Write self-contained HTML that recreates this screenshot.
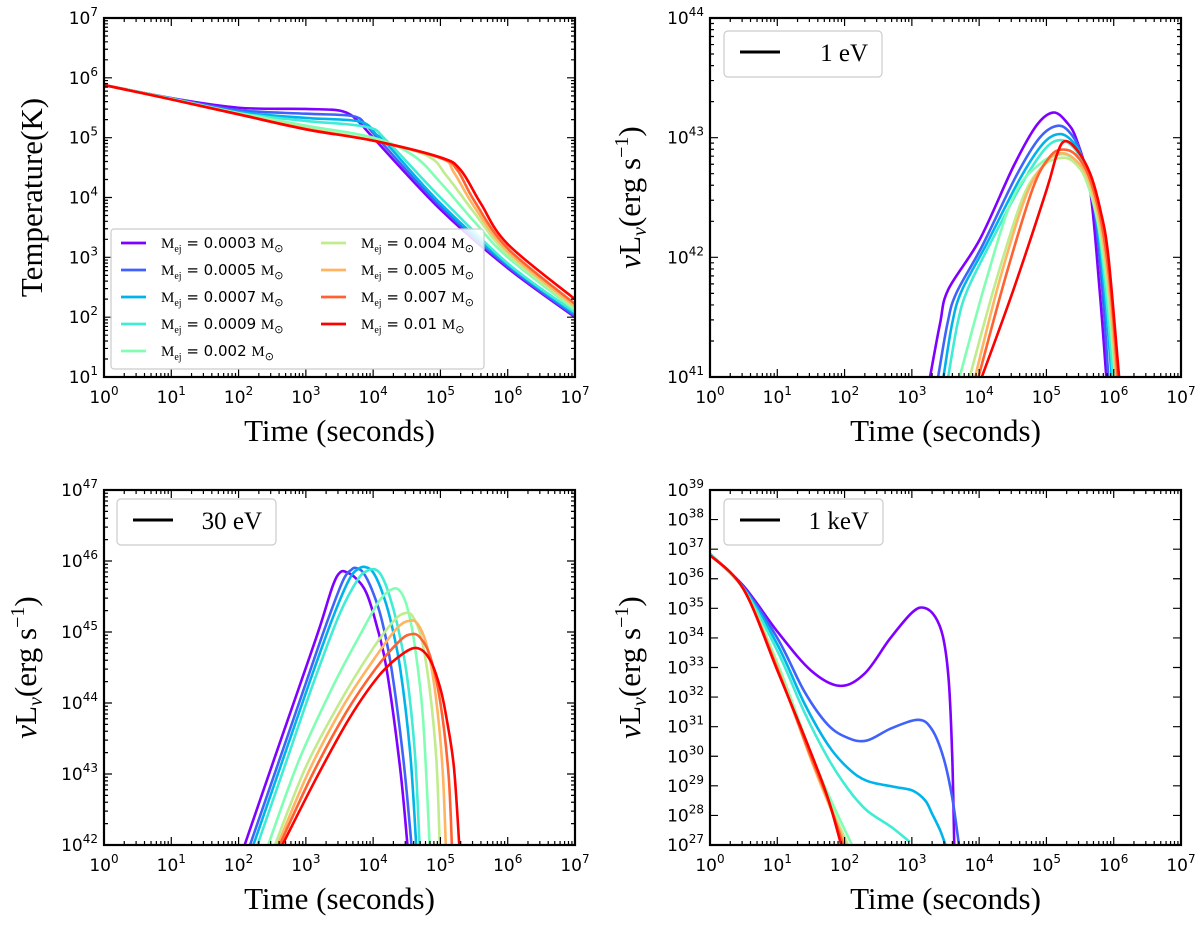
<!DOCTYPE html>
<html><head><meta charset="utf-8"><style>
body{margin:0;background:#fff;}
svg text{font-family:"DejaVu Sans","Liberation Sans",sans-serif;}
.serif{font-family:"Liberation Serif","DejaVu Serif",serif !important;}
</style></head><body>
<svg id="fig" width="1200" height="926" viewBox="0 0 1200 926" xmlns="http://www.w3.org/2000/svg"></svg>
<script>
const seriesLabels = ["0.0003","0.0005","0.0007","0.0009","0.002","0.004","0.005","0.007","0.01"];
const seriesColors = ["#8000ff","#4062fa","#00b4eb","#40ecd4","#80ffb4","#c0ec8e","#ffb462","#ff6232","#ff0000"];
// [log10 t, log10 value]
const tempCurves = [
 [[0,5.88],[1,5.66],[2,5.5],[3,5.48],[3.55,5.44],[3.8,5.25],[4,5.0],[5,3.8],[6,2.82],[7,2.0]],
 [[0,5.88],[1,5.66],[2,5.46],[3,5.4],[3.7,5.36],[3.9,5.2],[4.1,4.95],[5,3.85],[6,2.85],[7,2.02]],
 [[0,5.88],[1,5.65],[2,5.43],[3,5.33],[3.8,5.27],[4.05,5.05],[4.2,4.9],[5,3.9],[6,2.88],[7,2.05]],
 [[0,5.88],[1,5.65],[2,5.41],[3,5.28],[3.9,5.18],[4.2,4.95],[5,4.0],[6,2.9],[7,2.08]],
 [[0,5.88],[1,5.65],[2,5.41],[3,5.2],[4,5.0],[4.6,4.7],[5,4.25],[5.5,3.6],[6,3.0],[7,2.12]],
 [[0,5.88],[1,5.64],[2,5.4],[3,5.16],[4,4.96],[4.8,4.7],[5.1,4.35],[5.5,3.75],[6,3.05],[7,2.15]],
 [[0,5.88],[1,5.64],[2,5.39],[3,5.15],[4,4.95],[5,4.66],[5.2,4.42],[5.5,3.85],[6,3.1],[7,2.18]],
 [[0,5.88],[1,5.64],[2,5.39],[3,5.14],[4,4.95],[5,4.66],[5.25,4.46],[5.5,3.95],[6,3.15],[7,2.22]],
 [[0,5.88],[1,5.64],[2,5.39],[3,5.14],[4,4.95],[5,4.67],[5.3,4.46],[5.6,3.9],[6,3.22],[7,2.3]]
];
const eV1Curves = [
 [[3.27,41],[3.42,41.45],[3.54,41.73],[4.01,42.15],[4.51,42.76],[4.85,43.1],[5.1,43.21],[5.3,43.13],[5.45,42.98],[5.65,42.56],[5.79,41.73],[5.89,41]],
 [[3.39,41],[3.53,41.45],[3.66,41.7],[4.05,42.1],[4.55,42.68],[4.9,43.0],[5.18,43.1],[5.38,43.02],[5.52,42.85],[5.7,42.45],[5.83,41.73],[5.92,41]],
 [[3.47,41],[3.6,41.45],[3.74,41.72],[4.1,42.1],[4.6,42.65],[4.95,42.95],[5.2,43.03],[5.4,42.96],[5.55,42.8],[5.72,42.42],[5.86,41.73],[5.97,41]],
 [[3.54,41],[3.68,41.45],[3.82,41.72],[4.15,42.1],[4.62,42.6],[4.97,42.9],[5.2,42.98],[5.4,42.92],[5.56,42.76],[5.74,42.4],[5.88,41.73],[5.99,41]],
 [[3.71,41],[4.1,41.8],[4.51,42.51],[4.9,42.78],[5.2,42.86],[5.4,42.82],[5.58,42.66],[5.76,42.3],[5.9,41.75],[6.02,41]],
 [[3.86,41],[4.25,41.8],[4.65,42.5],[4.95,42.76],[5.2,42.83],[5.4,42.8],[5.6,42.64],[5.78,42.28],[5.92,41.75],[6.03,41]],
 [[3.94,41],[4.3,41.8],[4.7,42.52],[5.0,42.8],[5.22,42.87],[5.42,42.82],[5.62,42.66],[5.8,42.28],[5.93,41.75],[6.04,41]],
 [[3.99,41],[4.4,41.85],[4.8,42.58],[5.05,42.84],[5.23,42.9],[5.43,42.86],[5.63,42.68],[5.82,42.28],[5.95,41.75],[6.06,41]],
 [[4.04,41],[4.51,41.73],[5.0,42.56],[5.15,42.85],[5.27,42.97],[5.45,42.9],[5.65,42.7],[5.8,42.4],[5.92,42.01],[6.08,41]]
];
const eV30Curves = [
 [[2.09,42],[2.5,43.13],[2.91,44.25],[3.2,45.05],[3.4,45.65],[3.51,45.84],[3.61,45.84],[3.75,45.75],[3.9,45.55],[4.05,45.1],[4.2,44.48],[4.4,43.09],[4.51,42]],
 [[2.17,42],[2.6,43.18],[3.0,44.28],[3.3,45.1],[3.55,45.72],[3.68,45.88],[3.75,45.9],[3.85,45.84],[3.98,45.6],[4.12,45.2],[4.27,44.5],[4.45,43.2],[4.57,42]],
 [[2.22,42],[2.65,43.18],[3.05,44.28],[3.4,45.2],[3.65,45.75],[3.8,45.9],[3.9,45.91],[4.0,45.84],[4.12,45.6],[4.25,45.2],[4.4,44.5],[4.55,43.3],[4.64,42]],
 [[2.28,42],[2.7,43.15],[3.1,44.25],[3.5,45.25],[3.78,45.75],[3.93,45.87],[4.03,45.88],[4.12,45.8],[4.23,45.55],[4.36,45.1],[4.5,44.4],[4.62,43.3],[4.69,42]],
 [[2.44,42],[2.9,43.2],[3.41,44.25],[3.8,44.95],[4.1,45.45],[4.3,45.61],[4.42,45.55],[4.52,45.3],[4.62,44.8],[4.74,43.8],[4.84,42]],
 [[2.54,42],[3.0,43.1],[3.5,44.0],[3.95,44.7],[4.3,45.15],[4.49,45.27],[4.6,45.2],[4.72,44.9],[4.84,44.2],[4.94,43.2],[4.99,42]],
 [[2.58,42],[3.05,43.05],[3.55,43.95],[4.0,44.6],[4.35,45.05],[4.55,45.16],[4.67,45.1],[4.8,44.8],[4.93,44.1],[5.03,43.1],[5.08,42]],
 [[2.61,42],[3.1,43.0],[3.6,43.87],[4.05,44.5],[4.4,44.88],[4.57,44.97],[4.7,44.92],[4.85,44.65],[5.0,44.0],[5.12,43.0],[5.17,42]],
 [[2.65,42],[3.16,42.95],[3.65,43.79],[4.1,44.4],[4.45,44.7],[4.67,44.77],[4.85,44.6],[5.0,44.2],[5.09,43.79],[5.2,43.1],[5.28,42]]
];
const keV1Curves = [
 [[0,36.84],[0.5,35.75],[1.01,34.19],[1.5,32.9],[1.93,32.38],[2.3,32.8],[2.67,33.96],[3.0,34.85],[3.18,35.02],[3.35,34.7],[3.47,33.96],[3.55,32.5],[3.6,30.0],[3.63,27]],
 [[0,36.84],[0.5,35.7],[1.01,33.96],[1.4,32.2],[1.75,31.07],[2.05,30.62],[2.33,30.53],[2.7,30.95],[3.1,31.23],[3.3,30.9],[3.47,29.95],[3.6,28.6],[3.7,27]],
 [[0,36.84],[0.5,35.68],[1.01,33.74],[1.4,31.8],[1.75,30.4],[2.05,29.6],[2.33,29.17],[2.73,28.97],[3.01,28.84],[3.2,28.5],[3.3,28.06],[3.42,27.5],[3.5,27]],
 [[0,36.84],[0.5,35.65],[1.01,33.52],[1.4,31.5],[1.75,29.95],[2.05,28.9],[2.33,28.17],[2.7,27.6],[2.97,27.1]],
 [[0,36.82],[0.5,35.64],[1.01,33.1],[1.5,30.1],[1.8,28.5],[2.11,27]],
 [[0,36.81],[0.5,35.64],[1.01,33.0],[1.5,30.0],[1.8,28.3],[2.05,27]],
 [[0,36.81],[0.5,35.64],[1.01,32.95],[1.5,29.9],[1.78,28.3],[2.02,27]],
 [[0,36.8],[0.5,35.64],[1.01,32.9],[1.48,30.1],[1.76,28.5],[1.98,27]],
 [[0,36.8],[0.5,35.64],[1.01,32.85],[1.47,30.29],[1.75,28.6],[1.95,27]]
];
const xTickExps = [0,1,2,3,4,5,6,7];
const tempYTicks = [1,2,3,4,5,6,7];
const eV1YTicks = [41,42,43,44];
const eV30YTicks = [42,43,44,45,46,47];
const keV1YTicks = [27,28,29,30,31,32,33,34,35,36,37,38,39];

const NS="http://www.w3.org/2000/svg";
const svg=document.getElementById('fig');
function mk(tag,attrs,parent){const e=document.createElementNS(NS,tag);for(const k in attrs)e.setAttribute(k,attrs[k]);(parent||svg).appendChild(e);return e;}

function smoothPath(pts){
  let d='M'+pts[0][0].toFixed(2)+','+pts[0][1].toFixed(2);
  for(let i=0;i<pts.length-1;i++){
    const p0=pts[i-1]||pts[i],p1=pts[i],p2=pts[i+1],p3=pts[i+2]||p2;
    const c1=[p1[0]+(p2[0]-p0[0])/6,p1[1]+(p2[1]-p0[1])/6];
    const c2=[p2[0]-(p3[0]-p1[0])/6,p2[1]-(p3[1]-p1[1])/6];
    d+=' C'+c1.map(v=>v.toFixed(2)).join(',')+' '+c2.map(v=>v.toFixed(2)).join(',')+' '+p2[0].toFixed(2)+','+p2[1].toFixed(2);
  }
  return d;
}
function expLabel(parent,x,y,exp,anchor,name){
  const t=mk('text',{x:x,y:y,'font-size':17,'text-anchor':anchor,fill:'#000'},parent);
  
  
  t.appendChild(document.createTextNode('10'));
  const s=mk('tspan',{dy:-8,'font-size':12},t);s.textContent=String(exp);
}

function panel(id,x0,x1,y0,y1,ymin,ymax,yTicks,curves,yMinor,ylabelFn,ylabelX){
  const g=mk('g',{});
  
  
  const xs=v=>x0+(v-0)/7*(x1-x0);
  const ys=v=>y1-(v-ymin)/(ymax-ymin)*(y1-y0);
  const cp=mk('clipPath',{id:id+'-clip'},g);
  mk('rect',{x:x0,y:y0,width:x1-x0,height:y1-y0},cp);
  const cg=mk('g',{'clip-path':'url(#'+id+'-clip)'},g);
  curves.forEach((c,i)=>{
    const p=mk('path',{d:smoothPath(c.map(q=>[xs(q[0]),ys(q[1])])),fill:'none',stroke:seriesColors[i],'stroke-width':2.6,'stroke-linejoin':'round'},cg);
    
    
  });
  let tk='';
  xTickExps.forEach(e=>{
    const x=xs(e);
    tk+=`M${x},${y1}v-8M${x},${y0}v8`;
    if(e<7) for(let m=2;m<10;m++){const xm=xs(e+Math.log10(m));tk+=`M${xm},${y1}v-4M${xm},${y0}v4`;}
    expLabel(g,x,y1+26,e,'middle','x-tick-label');
  });
  yTicks.forEach(e=>{
    const y=ys(e);
    tk+=`M${x0},${y}h8M${x1},${y}h-8`;
    if(yMinor && e<ymax) for(let m=2;m<10;m++){const ym=ys(e+Math.log10(m));tk+=`M${x0},${ym}h4M${x1},${ym}h-4`;}
    expLabel(g,x0-6,y+6,e,'end','y-tick-label');
  });
  mk('path',{d:tk,stroke:'#000','stroke-width':1.2,fill:'none'},g);
  const fr=mk('rect',{x:x0,y:y0,width:x1-x0,height:y1-y0,fill:'none',stroke:'#000','stroke-width':2.2},g);
  
  
  const xl=mk('text',{x:(x0+x1)/2,y:y1+64,'font-size':31,'text-anchor':'middle',class:'serif'},g);
  
  
  xl.textContent='Time (seconds)';
  const yl=mk('text',{x:0,y:0,'font-size':31,'text-anchor':'middle',class:'serif',transform:`translate(${ylabelX},${(y0+y1)/2}) rotate(-90)`},g);
  
  
  ylabelFn(yl);
  return g;
}
function nuLabel(t){
  t.innerHTML='<tspan font-style="italic">ν</tspan>L<tspan font-size="20" dy="6" font-style="italic">ν</tspan><tspan dy="-6">(erg s</tspan><tspan font-size="20" dy="-12">−1</tspan><tspan dy="12">)</tspan>';
}
function tempLabel(t){t.textContent='Temperature(K)';}

const LX0=104,LX1=575,RX0=710,RX1=1181,TY0=18,TY1=377,BY0=490,BY1=845;
panel('temperature-panel',LX0,LX1,TY0,TY1,1,7,tempYTicks,tempCurves,true,tempLabel,42);
panel('one-ev-panel',RX0,RX1,TY0,TY1,41,44,eV1YTicks,eV1Curves,true,nuLabel,640);
panel('thirty-ev-panel',LX0,LX1,BY0,BY1,42,47,eV30YTicks,eV30Curves,true,nuLabel,36);
panel('one-kev-panel',RX0,RX1,BY0,BY1,27,39,keV1YTicks,keV1Curves,false,nuLabel,640);

function energyLegend(x,y,w,label,name){
  const g=mk('g',{});
  
  
  mk('rect',{x:x,y:y,width:w,height:46,rx:4,fill:'#fff',stroke:'#ccc','stroke-width':1.2},g);
  mk('line',{x1:x+16,x2:x+56,y1:y+21,y2:y+21,stroke:'#000','stroke-width':3},g);
  const t=mk('text',{x:x+w-14,y:y+30,'font-size':25,'text-anchor':'end',class:'serif'},g);
  t.textContent=label;
}
energyLegend(724,31,158,'1 eV','legend-1ev');
energyLegend(117,499,159,'30 eV','legend-30ev');
energyLegend(724,499,159,'1 keV','legend-1kev');

const lg=mk('g',{});


mk('rect',{x:111,y:229,width:373,height:140,rx:3,fill:'#fff','fill-opacity':0.85,stroke:'#ccc','stroke-width':1.2},lg);
const rowsY=[243,270,297,324,351];
seriesLabels.forEach((lab,i)=>{
  const col=i<5?0:1,row=i<5?i:i-5;
  const lx=col?321:121,tx=col?361:161,y=rowsY[row];
  const e=mk('g',{},lg);
  
  
  mk('line',{x1:lx,x2:lx+25,y1:y,y2:y,stroke:seriesColors[i],'stroke-width':2.8},e);
  const t=mk('text',{x:tx,y:y+5,'font-size':15},e);
  t.innerHTML='<tspan class="serif">M</tspan><tspan class="serif" font-size="10" dy="4">ej</tspan><tspan dy="-4"> = '+lab+' </tspan><tspan class="serif">M</tspan><tspan font-size="11" dy="4">⊙</tspan>';
});
</script>
</body></html>
